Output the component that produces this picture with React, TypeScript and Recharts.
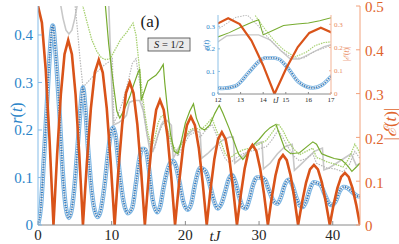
import { LineChart, Line, XAxis, YAxis } from 'recharts';

type Pt = [number, number];

const xTicks = [0, 10, 20, 30, 40];
const rTicks = [0, 0.1, 0.2, 0.3, 0.4];
const eTicks = [0, 0.1, 0.2, 0.3, 0.4, 0.5];
const insetXTicks = [12, 13, 14, 15, 16, 17];
const insetRTicks = [0, 0.1, 0.2, 0.3];
const insetETicks = [0, 0.1, 0.2, 0.3];

// r(t), left axis
const rExact: Pt[] = [
  [0, 0], [0.4, 0.04], [0.8, 0.14], [1.2, 0.25], [1.6, 0.36], [2, 0.42], [2.4, 0.36], [2.9, 0.24],
  [3.4, 0.1], [3.8, 0.035], [4.2, 0.015], [4.6, 0.035], [5, 0.09], [5.4, 0.17], [5.8, 0.25], [6.1, 0.29],
  [6.4, 0.25], [6.8, 0.16], [7.3, 0.07], [7.7, 0.03], [8.1, 0.017], [8.5, 0.03], [9, 0.08], [9.5, 0.15],
  [9.9, 0.195], [10.2, 0.205], [10.5, 0.19], [11, 0.12], [11.6, 0.05], [12.2, 0.025], [12.76, 0.035],
  [13.34, 0.093], [13.79, 0.142], [14.1, 0.16], [14.4, 0.16], [14.68, 0.155], [15.08, 0.116], [15.57, 0.053],
  [16.2, 0.027], [16.6, 0.04], [17, 0.076], [17.5, 0.112], [18, 0.132], [18.3, 0.135], [18.7, 0.125],
  [19.2, 0.09], [19.7, 0.05], [20.3, 0.032], [20.8, 0.045], [21.3, 0.085], [21.8, 0.115], [22, 0.12],
  [22.5, 0.117], [22.9, 0.108], [23.4, 0.08], [23.9, 0.05], [24.4, 0.035], [24.9, 0.045], [25.4, 0.07],
  [25.9, 0.097], [26.3, 0.105], [26.8, 0.09], [27.3, 0.06], [27.8, 0.038], [28.2, 0.035], [28.7, 0.055],
  [29.2, 0.085], [29.7, 0.1], [30.2, 0.1], [30.8, 0.095], [31.3, 0.075], [31.9, 0.052], [32.5, 0.045],
  [33, 0.06], [33.5, 0.085], [34, 0.095], [34.5, 0.085], [35, 0.06], [35.5, 0.042], [35.9, 0.038],
  [36.4, 0.05], [36.9, 0.075], [37.4, 0.09], [37.9, 0.088], [38.4, 0.083], [38.9, 0.065], [39.4, 0.048],
  [39.9, 0.042], [40.4, 0.05], [40.9, 0.07], [41.5, 0.08], [42, 0.078], [42.6, 0.07], [43.2, 0.062], [43.7, 0.06],
];

// |E(t)|, right axis
const absE: Pt[] = [
  [0, 0.5], [0.53, 0.462], [1.05, 0.354], [1.58, 0.19], [2.1, 0],
  [2.6, 0.162], [3.1, 0.298], [3.6, 0.39], [4.1, 0.422], [4.6, 0.39], [5.1, 0.298], [5.6, 0.162], [6.1, 0],
  [6.64, 0.144], [7.18, 0.267], [7.71, 0.348], [8.25, 0.377], [8.79, 0.348], [9.33, 0.267], [9.86, 0.144], [10.4, 0],
  [10.91, 0.125], [11.43, 0.23], [11.94, 0.301], [12.45, 0.326], [12.96, 0.301], [13.48, 0.23], [13.99, 0.125], [14.5, 0],
  [15.01, 0.109], [15.53, 0.202], [16.04, 0.263], [16.55, 0.285], [17.06, 0.263], [17.58, 0.202], [18.09, 0.109], [18.6, 0],
  [19.14, 0.095], [19.68, 0.175], [20.21, 0.228], [20.75, 0.247], [21.29, 0.228], [21.83, 0.175], [22.36, 0.095], [22.9, 0],
  [23.41, 0.081], [23.93, 0.15], [24.44, 0.196], [24.95, 0.212], [25.46, 0.196], [25.98, 0.15], [26.49, 0.081], [27, 0],
  [27.53, 0.07], [28.05, 0.129], [28.58, 0.169], [29.1, 0.183], [29.63, 0.169], [30.15, 0.129], [30.68, 0.07], [31.2, 0],
  [31.71, 0.061], [32.23, 0.113], [32.74, 0.148], [33.25, 0.16], [33.76, 0.148], [34.28, 0.113], [34.79, 0.061], [35.3, 0],
  [35.84, 0.052], [36.38, 0.097], [36.91, 0.127], [37.45, 0.137], [37.99, 0.127], [38.53, 0.097], [39.06, 0.052], [39.6, 0],
  [40.11, 0.046], [40.63, 0.084], [41.14, 0.11], [41.65, 0.119], [42.16, 0.11], [42.68, 0.084], [43.19, 0.046], [43.7, 0],
];

const greenSolid: Pt[] = [
  [8.8, 0.55], [9.1, 0.47], [9.6, 0.38], [10.2, 0.3], [10.7, 0.24], [11.1, 0.225], [11.6, 0.24], [12, 0.253],
  [12.5, 0.272], [13, 0.296], [13.5, 0.318], [13.8, 0.329], [14, 0.262], [14.4, 0.28], [14.9, 0.303], [15.5, 0.31],
  [16, 0.315], [16.5, 0.325], [17, 0.338], [17.2, 0.3], [17.6, 0.24], [18, 0.19], [18.5, 0.155], [19, 0.15],
  [19.5, 0.18], [20, 0.215], [20.6, 0.24], [21.1, 0.255], [21.5, 0.225], [22, 0.205], [22.6, 0.2], [23.3, 0.21],
  [24, 0.235], [24.6, 0.252], [25.1, 0.235], [25.9, 0.205], [26.5, 0.18], [27.2, 0.15], [27.8, 0.138], [28.5, 0.152],
  [29.2, 0.168], [30, 0.18], [30.8, 0.195], [31.5, 0.205], [32.3, 0.212], [32.8, 0.19], [33.5, 0.16], [34.3, 0.15],
  [35.5, 0.152], [36.5, 0.165], [37.3, 0.175], [37.8, 0.17], [38.5, 0.15], [39.3, 0.145], [40.2, 0.14], [41.2, 0.137],
  [42, 0.125], [42.6, 0.113], [43.2, 0.122], [43.7, 0.13],
];

const greenDotted: Pt[] = [
  [5.8, 0.5], [6.1, 0.46], [6.6, 0.43], [7.3, 0.39], [8, 0.365], [8.6, 0.352], [9.2, 0.348], [9.8, 0.35],
  [10.5, 0.37], [11.2, 0.39], [12, 0.405], [12.9, 0.425], [13.3, 0.4], [13.7, 0.34], [14.1, 0.284], [14.5, 0.235],
  [14.9, 0.196], [15.4, 0.164], [15.9, 0.185], [16.3, 0.215], [16.7, 0.228], [17, 0.231], [17.5, 0.205], [18.2, 0.17],
  [19, 0.152], [19.8, 0.18], [20.6, 0.2], [21.3, 0.205], [22, 0.2], [22.8, 0.21], [23.6, 0.225], [24.2, 0.2],
  [24.7, 0.18], [25.4, 0.15], [26, 0.14], [26.8, 0.15], [27.8, 0.158], [28.8, 0.162], [30, 0.17], [31, 0.178],
  [31.8, 0.195], [32.6, 0.213], [33.2, 0.2], [33.9, 0.178], [34.7, 0.16], [35.5, 0.148], [36.4, 0.155], [37.3, 0.162],
  [37.8, 0.142], [38.5, 0.138], [39.2, 0.133], [40.3, 0.128], [41.4, 0.122], [42.2, 0.14], [43, 0.17], [43.4, 0.16], [43.7, 0.15],
];

const greySolid: Pt[] = [
  [2.5, 0.55], [3, 0.47], [3.4, 0.435], [3.8, 0.41], [4.2, 0.402], [4.6, 0.41], [5, 0.435], [5.4, 0.47], [5.8, 0.55],
  [9.4, 0.55], [9.8, 0.38], [10.2, 0.21], [10.6, 0.213], [11, 0.216], [11.5, 0.222], [12, 0.231], [12.4, 0.258],
  [13, 0.262], [13.8, 0.262], [14.3, 0.24], [14.8, 0.19], [15.2, 0.155], [15.6, 0.155], [16.2, 0.185], [16.7, 0.21],
  [17, 0.218], [17.5, 0.22], [18.1, 0.21], [18.35, 0.14], [19, 0.16], [20, 0.185], [21, 0.2], [22, 0.195], [22.2, 0.14],
  [23, 0.15], [24, 0.165], [25, 0.178], [26, 0.185], [26.5, 0.185], [26.7, 0.13], [27.5, 0.14], [28.5, 0.155],
  [29.5, 0.17], [30.4, 0.175], [30.6, 0.118], [31.5, 0.13], [32.5, 0.15], [33.5, 0.165], [34.5, 0.17], [34.8, 0.115],
  [35.5, 0.125], [36.5, 0.14], [37.5, 0.155], [38.6, 0.162], [38.8, 0.116], [39.5, 0.12], [40.5, 0.13], [41.5, 0.14],
  [42.5, 0.15], [43.2, 0.125], [43.7, 0.13],
];

const greyDotted: Pt[] = [
  [4.8, 0.5], [5.3, 0.42], [5.7, 0.35], [6.1, 0.29], [7, 0.305], [8, 0.322], [9, 0.337], [9.8, 0.345], [10.1, 0.35],
  [10.3, 0.215], [10.8, 0.23], [11.5, 0.26], [12.2, 0.3], [12.8, 0.34], [13.3, 0.35], [13.8, 0.3], [14.3, 0.24],
  [14.8, 0.19], [15.3, 0.16], [15.8, 0.16], [16.3, 0.19], [17, 0.215], [17.6, 0.2], [18.2, 0.16], [19, 0.145],
  [19.8, 0.17], [20.6, 0.19], [21.3, 0.195], [22, 0.185], [22.8, 0.2], [23.6, 0.212], [24.2, 0.19], [24.7, 0.165],
  [25.4, 0.14], [26, 0.13], [26.8, 0.14], [27.8, 0.15], [28.8, 0.155], [30, 0.16], [31, 0.165], [31.8, 0.18],
  [32.6, 0.2], [33.2, 0.185], [33.9, 0.165], [34.7, 0.145], [35.5, 0.135], [36.4, 0.14], [37.3, 0.15], [37.8, 0.13],
  [38.5, 0.125], [39.2, 0.12], [40.3, 0.118], [41.4, 0.112], [42.2, 0.125], [43, 0.155], [43.7, 0.14],
];

const font = 'Liberation Serif, DejaVu Serif, serif';
const rows = (pts: Pt[]) => pts.map(([t, v]) => ({ t, v }));

function traces(x: string, l: string, e: string, k: number) {
  const common = { xAxisId: x, dataKey: 'v', dot: false, activeDot: false, isAnimationActive: false };
  return [
    <Line key="gs" {...common} yAxisId={l} data={rows(greySolid)} type="linear" stroke="#c8c8c8" strokeWidth={1.6 * k} />,
    <Line key="gd" {...common} yAxisId={l} data={rows(greyDotted)} type="linear" stroke="#b8b8b8" strokeWidth={1.2 * k} strokeDasharray="1.5 1.2" />,
    <Line key="ld" {...common} yAxisId={l} data={rows(greenDotted)} type="linear" stroke="#a6d06f" strokeWidth={1.3 * k} strokeDasharray="1.5 1" />,
    <Line key="g" {...common} yAxisId={l} data={rows(greenSolid)} type="linear" stroke="#77ac30" strokeWidth={1.2 * k} />,
    <Line key="b1" {...common} yAxisId={l} data={rows(rExact)} type="monotone" stroke="#80b8e4" strokeWidth={4.6 * k} />,
    <Line key="b2" {...common} yAxisId={l} data={rows(rExact)} type="monotone" stroke="#ffffff" strokeWidth={2.4 * k} />,
    <Line key="b3" {...common} yAxisId={l} data={rows(rExact)} type="monotone" stroke="#a8a8a8" strokeWidth={0.8 * k} />,
    <Line key="b4" {...common} yAxisId={l} data={rows(rExact)} type="monotone" stroke="#2a78c2" strokeWidth={2.2 * k} strokeDasharray="1 1.5" />,
    <Line key="e" {...common} yAxisId={e} data={rows(absE)} type="linear" stroke="#d95319" strokeWidth={2.6 * k} />,
  ];
}

export default function App() {
  return (
    <div style={{ position: 'fixed', left: 0, top: 0, width: 399, height: 244, background: '#fff', overflow: 'hidden' }}>
      <div style={{ position: 'absolute', left: 0, top: 0 }}>
        <LineChart width={399} height={244} margin={{ top: 6, right: 0, bottom: 0, left: 0 }}>
          <XAxis xAxisId="b" type="number" dataKey="t" domain={[0, 43.7]} allowDataOverflow ticks={xTicks} interval={0}
            height={19} stroke="#8a8a8a" tickSize={-4} tickMargin={8}
            tick={{ fill: '#262626', fontSize: 15, fontFamily: font }} />
          <XAxis xAxisId="top" orientation="top" type="number" dataKey="t" domain={[0, 43.7]} allowDataOverflow ticks={xTicks}
            height={0} mirror stroke="#8a8a8a" tickSize={4} tick={false} />
          <YAxis yAxisId="l" type="number" domain={[0, 0.461]} allowDataOverflow ticks={rTicks} interval={0} width={38}
            stroke="#86bde8" tickSize={-4} tickMargin={9}
            tick={{ fill: '#2a84c9', fontSize: 15, fontFamily: font }} />
          <YAxis yAxisId="e" orientation="right" type="number" domain={[0, 0.5]} allowDataOverflow ticks={eTicks} interval={0}
            width={39} stroke="#f2a27c" tickSize={-4} tickMargin={9}
            tick={{ fill: '#e0642c', fontSize: 15, fontFamily: font, dy: 1 }} />
          {traces('b', 'l', 'e', 1)}
        </LineChart>
      </div>

      <div style={{ position: 'absolute', left: 218, top: 15, width: 113, height: 79, background: '#fff' }} />

      <div style={{ position: 'absolute', left: 196, top: 12 }}>
        <LineChart width={170} height={96} margin={{ top: 3, right: 0, bottom: 0, left: 0 }}>
          <XAxis xAxisId="b" type="number" dataKey="t" domain={[12, 17]} allowDataOverflow ticks={insetXTicks} interval={0}
            height={14} stroke="#8a8a8a" tickSize={-2} tickMargin={5}
            tick={{ fill: '#262626', fontSize: 7, fontFamily: font }} />
          <XAxis xAxisId="top" orientation="top" type="number" dataKey="t" domain={[12, 17]} allowDataOverflow ticks={insetXTicks}
            height={0} mirror stroke="#9a9a9a" tickSize={2} tick={false} />
          <YAxis yAxisId="l" type="number" domain={[0, 0.35]} allowDataOverflow ticks={insetRTicks} interval={0} width={22}
            stroke="#8ec1e6" tickSize={-2} tickMargin={5}
            tick={{ fill: '#2a84c9', fontSize: 7, fontFamily: font }} />
          <YAxis yAxisId="e" orientation="right" type="number" domain={[0, 0.34]} allowDataOverflow ticks={insetETicks} interval={0}
            width={35} stroke="#f3b396" tickSize={-2} tickMargin={5}
            tick={{ fill: '#e98a5e', fontSize: 7, fontFamily: font }} />
          {traces('b', 'l', 'e', 0.85)}
        </LineChart>
      </div>

      <svg width={399} height={244} style={{ position: 'absolute', left: 0, top: 0, pointerEvents: 'none' }}
        fontFamily={font}>
        <text transform="translate(22,113) rotate(-90)" textAnchor="middle" fontSize={16} fill="#2a84c9">
          <tspan fontStyle="italic">r</tspan>(<tspan fontStyle="italic">t</tspan>)
        </text>
        <text transform="translate(396,124) rotate(-90)" textAnchor="middle" fontSize={17} fill="#e0642c">
          |<tspan fontStyle="italic">ℰ</tspan>(<tspan fontStyle="italic">t</tspan>)|
        </text>
        <text x={215} y={241} textAnchor="middle" fontSize={15} fontStyle="italic" fill="#262626">tJ</text>
        <text x={150} y={27} textAnchor="middle" fontSize={17} fill="#1a1a1a">(a)</text>
        <rect x={148} y={38} width={42} height={13} fill="#ebebeb" stroke="#444" strokeWidth={0.8} />
        <text x={169} y={48} textAnchor="middle" fontSize={10.5} fill="#1a1a1a">
          <tspan fontStyle="italic">S</tspan> = 1/2
        </text>
        <text transform="translate(209,45) rotate(-90)" textAnchor="middle" fontSize={7.5} fill="#2a84c9">
          <tspan fontStyle="italic">r</tspan>(<tspan fontStyle="italic">t</tspan>)
        </text>
        <text transform="translate(349,54) rotate(-90)" textAnchor="middle" fontSize={7.5} fill="#e98a5e">
          |<tspan fontStyle="italic">ℰ</tspan>(<tspan fontStyle="italic">t</tspan>)|
        </text>
        <text x={276} y={103} textAnchor="middle" fontSize={7.5} fontStyle="italic" fill="#262626">tJ</text>
      </svg>
    </div>
  );
}
